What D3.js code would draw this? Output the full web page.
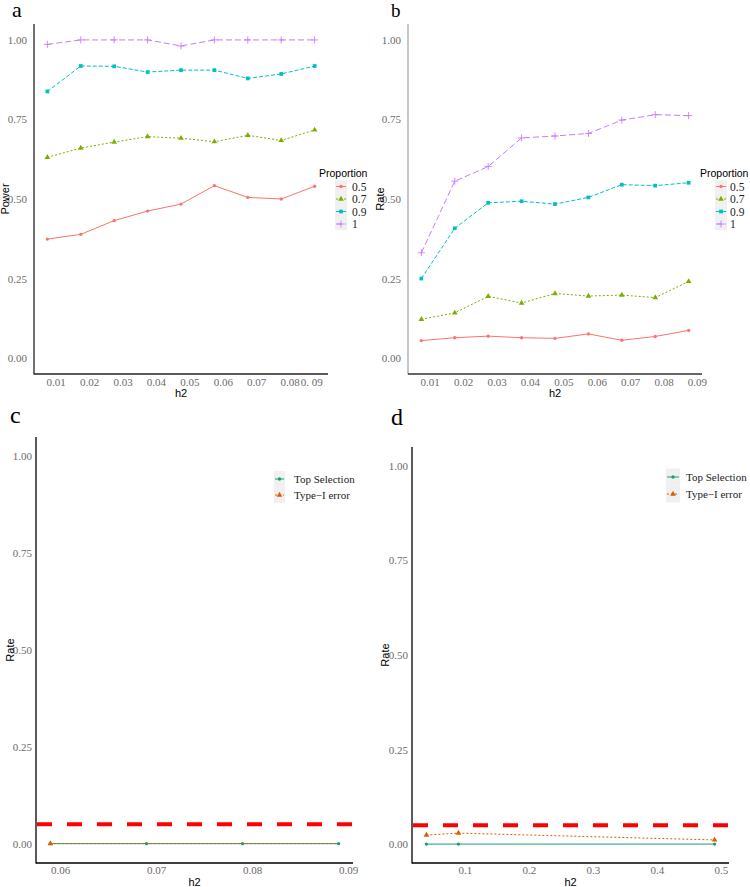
<!DOCTYPE html>
<html><head><meta charset="utf-8">
<script src="https://cdn.jsdelivr.net/npm/d3@7"></script>
<style>body{margin:0;background:#fff}svg{display:block}</style>
</head><body>
<svg id="c" width="750" height="887"></svg>
<script>
// ---------- data ----------
const h2AB = [0.0075,0.0175,0.0275,0.0375,0.0475,0.0575,0.0675,0.0775,0.0875];
const proportions = ["0.5","0.7","0.9","1"];
const powerA = {
  "0.5":[0.374,0.389,0.432,0.462,0.484,0.542,0.505,0.500,0.540],
  "0.7":[0.631,0.660,0.679,0.696,0.691,0.680,0.700,0.684,0.717],
  "0.9":[0.838,0.918,0.917,0.899,0.905,0.905,0.879,0.893,0.918],
  "1":  [0.986,1.000,1.000,1.000,0.981,1.000,1.000,1.000,1.000]
};
const rateB = {
  "0.5":[0.055,0.064,0.069,0.064,0.062,0.076,0.056,0.068,0.087],
  "0.7":[0.122,0.142,0.194,0.173,0.203,0.195,0.198,0.190,0.241],
  "0.9":[0.250,0.408,0.488,0.493,0.484,0.505,0.545,0.542,0.551],
  "1":  [0.331,0.556,0.602,0.692,0.698,0.706,0.748,0.765,0.762]
};
const xTicksA = [0.01,0.02,0.03,0.04,0.05,0.06,0.07,0.08,0.0865];
const xLabelsA = ["0.01","0.02","0.03","0.04","0.05","0.06","0.07","0.08","0. 09"];
const xTicksB = [0.01,0.02,0.03,0.04,0.05,0.06,0.07,0.08,0.09];
const xLabelsB = ["0.01","0.02","0.03","0.04","0.05","0.06","0.07","0.08","0.09"];
const yTicks = [0,0.25,0.5,0.75,1];
const yLabels = ["0.00","0.25","0.50","0.75","1.00"];

const methods = ["Top Selection","Type\u2212I error"];
const h2C_top = [0.059,0.069,0.079,0.089];
const rateC_top = [0,0,0,0];
const h2C_type1 = [0.059,0.069,0.079,0.089];
const rateC_type1 = [0,0,0,0];
const xTicksC = [0.06,0.07,0.08,0.09];
const xLabelsC = ["0.06","0.07","0.08","0.09"];

const h2D = [0.04,0.09,0.49];
const rateD_top = [0,0,0];
const rateD_type1 = [0.024,0.029,0.011];
const xTicksD = [0.1,0.2,0.3,0.4,0.5];
const xLabelsD = ["0.1","0.2","0.3","0.4","0.5"];
const threshold = 0.05;

// ---------- styles ----------
const propColor = {"0.5":"#F8766D","0.7":"#7CAE00","0.9":"#00BFC4","1":"#C77CFF"};
const propDash = {"0.5":null,"0.7":"2,2","0.9":"4,2","1":"6,3"};
const propShape = {"0.5":"circle","0.7":"triangle","0.9":"square","1":"plus"};
const methColor = {"Top Selection":"#1B9E77","Type\u2212I error":"#D95F02"};
const methDash = {"Top Selection":null,"Type\u2212I error":"2,2"};
const methShape = {"Top Selection":"circle","Type\u2212I error":"triangle"};

const SERIF = "'Liberation Serif','Times New Roman',serif";
const SANS = "'Liberation Sans',Arial,sans-serif";
const svg = d3.select("#c");

function marker(g, shape, x, y, color){
  if(shape==="plus"){
    g.append("path").attr("d",`M${x-3.5},${y}H${x+3.5}M${x},${y-3.5}V${y+3.5}`)
     .attr("stroke",color).attr("stroke-width",0.9).attr("fill","none");
    return;
  }
  const t = {circle:d3.symbolCircle, triangle:d3.symbolTriangle, square:d3.symbolSquare}[shape];
  const sz = {circle:9, triangle:14, square:14}[shape];
  g.append("path").attr("d",d3.symbol().type(t).size(sz)())
   .attr("transform",`translate(${x},${y})`).attr("fill",color);
}

function panel(cfg){
  const g = svg.append("g");
  const x = d3.scaleLinear().domain(cfg.xDomain).range([cfg.x0,cfg.x1]);
  const y = d3.scaleLinear().domain([-0.05,1.05]).range([cfg.yb,cfg.yt]);
  const yax = d3.axisLeft(y).tickValues(yTicks).tickFormat((d,i)=>yLabels[i]).tickSize(0).tickPadding(cfg.yPad);
  const ya = g.append("g").attr("transform",`translate(${cfg.x0},0)`).call(yax);
  ya.select(".domain").remove();
  ya.selectAll("text").attr("font-family",SERIF).attr("font-size",11).attr("fill","#6b6b6b");
  const xax = d3.axisBottom(x).tickValues(cfg.xTicks).tickFormat((d,i)=>cfg.xLabels[i]).tickSize(0).tickPadding(cfg.xPad);
  const xa = g.append("g").attr("transform",`translate(0,${cfg.yb})`).call(xax);
  xa.select(".domain").remove();
  xa.selectAll("text").attr("font-family",SERIF).attr("font-size",11).attr("fill","#6b6b6b");
  g.append("line").attr("x1",cfg.x0).attr("x2",cfg.x0).attr("y1",cfg.yt).attr("y2",cfg.yb+0.5)
    .attr("stroke",cfg.yAxisColor).attr("stroke-width",1.3);
  g.append("line").attr("x1",cfg.x0).attr("x2",cfg.x1).attr("y1",cfg.yb).attr("y2",cfg.yb)
    .attr("stroke",cfg.xAxisColor).attr("stroke-width",1.3);
  g.append("text").attr("x",(cfg.x0+cfg.x1)/2).attr("y",cfg.xTitleY).attr("text-anchor","middle")
    .attr("font-family",SANS).attr("font-size",11).text("h2");
  g.append("text").attr("transform",`translate(${cfg.yTitleX},${(cfg.yt+cfg.yb)/2}) rotate(-90)`)
    .attr("text-anchor","middle").attr("font-family",SANS).attr("font-size",11).text(cfg.yTitle);
  g.append("text").attr("x",cfg.tagX).attr("y",cfg.tagY).attr("font-family",SERIF)
    .attr("font-size",cfg.tagSize).text(cfg.tag);
  return {g,x,y};
}

function drawSeries(p, xs, ys, color, dash, shape){
  const line = d3.line().x((d,i)=>p.x(xs[i])).y(d=>p.y(d));
  p.g.append("path").datum(ys).attr("d",line).attr("fill","none")
    .attr("stroke",color).attr("stroke-width",1).attr("stroke-dasharray",dash);
  ys.forEach((v,i)=>marker(p.g,shape,p.x(xs[i]),p.y(v),color));
}

function legend(title, keys, colors, dashes, shapes, o){
  const g = svg.append("g");
  if(title) g.append("text").attr("x",o.titleX).attr("y",o.titleY).attr("font-family",SANS)
      .attr("font-size",10.5).text(title);
  keys.forEach((k,i)=>{
    const cy = o.y0 + i*o.step;
    g.append("rect").attr("x",o.kx).attr("y",cy-o.step/2).attr("width",o.kw).attr("height",o.step)
      .attr("fill","#f0f0f0");
    g.append("line").attr("x1",o.kx+1).attr("x2",o.kx+o.kw-1).attr("y1",cy).attr("y2",cy)
      .attr("stroke",colors[k]).attr("stroke-width",1).attr("stroke-dasharray",dashes[k]);
    marker(g,shapes[k],o.kx+o.kw/2,cy,colors[k]);
    g.append("text").attr("x",o.lx).attr("y",cy).attr("dy","0.35em").attr("font-family",SERIF)
      .attr("font-size",o.fs).attr("fill","#222").text(k);
  });
}

// ---------- panel a ----------
const pa = panel({x0:34,x1:328,yt:24,yb:374,xDomain:[0.0035,0.0915],xTicks:xTicksA,xLabels:xLabelsA,
  yPad:7,xPad:4,yAxisColor:"#222",xAxisColor:"#222",xTitleY:397,yTitleX:9,yTitle:"Power",
  tag:"a",tagX:12,tagY:17,tagSize:22});
proportions.forEach(k=>drawSeries(pa,h2AB,powerA[k],propColor[k],propDash[k],propShape[k]));
legend("Proportion",proportions,propColor,propDash,propShape,
  {titleX:319,titleY:177,y0:186.5,step:12.5,kx:335,kw:12,lx:352,fs:11.5});

// ---------- panel b ----------
const pb = panel({x0:408,x1:702,yt:24,yb:374,xDomain:[0.0035,0.0915],xTicks:xTicksB,xLabels:xLabelsB,
  yPad:7,xPad:4,yAxisColor:"#a8a8a8",xAxisColor:"#333",xTitleY:397,yTitleX:384,yTitle:"Rate",
  tag:"b",tagX:391,tagY:17,tagSize:19});
proportions.forEach(k=>drawSeries(pb,h2AB,rateB[k],propColor[k],propDash[k],propShape[k]));
legend("Proportion",proportions,propColor,propDash,propShape,
  {titleX:700,titleY:177,y0:186.5,step:12.5,kx:715,kw:12,lx:730,fs:11.5});

// ---------- panel c ----------
const pc = panel({x0:36,x1:353,yt:437,yb:863,xDomain:[0.0575,0.0905],xTicks:xTicksC,xLabels:xLabelsC,
  yPad:4,xPad:3,yAxisColor:"#000",xAxisColor:"#000",xTitleY:886,yTitleX:14,yTitle:"Rate",
  tag:"c",tagX:10,tagY:423,tagSize:24});
pc.g.append("line").attr("x1",pc.x(0.0575)).attr("x2",pc.x(0.0905)).attr("y1",pc.y(threshold)).attr("y2",pc.y(threshold))
  .attr("stroke","#ff0000").attr("stroke-width",4).attr("stroke-dasharray","15,15").attr("stroke-dashoffset",-1);
drawSeries(pc,h2C_top,rateC_top,methColor[methods[0]],methDash[methods[0]],methShape[methods[0]]);
drawSeries(pc,h2C_type1.slice(0,1),rateC_type1.slice(0,1),methColor[methods[1]],methDash[methods[1]],methShape[methods[1]]);
pc.g.append("path").datum(rateC_type1).attr("d",d3.line().x((d,i)=>pc.x(h2C_type1[i])).y(d=>pc.y(d)))
  .attr("fill","none").attr("stroke",methColor[methods[1]]).attr("stroke-width",1).attr("stroke-dasharray","2,2");
legend(null,methods,methColor,methDash,methShape,
  {y0:479,step:16,kx:274,kw:11,lx:294,fs:11});

// ---------- panel d ----------
const pd = panel({x0:412,x1:729,yt:447,yb:863,xDomain:[0.0175,0.5125],xTicks:xTicksD,xLabels:xLabelsD,
  yPad:4,xPad:3,yAxisColor:"#000",xAxisColor:"#000",xTitleY:886,yTitleX:389,yTitle:"Rate",
  tag:"d",tagX:391,tagY:425,tagSize:24});
pd.g.append("line").attr("x1",pd.x(0.0175)).attr("x2",pd.x(0.5125)).attr("y1",pd.y(threshold)).attr("y2",pd.y(threshold))
  .attr("stroke","#ff0000").attr("stroke-width",4).attr("stroke-dasharray","15,15").attr("stroke-dashoffset",-1);
drawSeries(pd,h2D,rateD_top,methColor[methods[0]],methDash[methods[0]],methShape[methods[0]]);
drawSeries(pd,h2D,rateD_type1,methColor[methods[1]],methDash[methods[1]],methShape[methods[1]]);
legend(null,methods,methColor,methDash,methShape,
  {y0:477,step:17,kx:666,kw:14,lx:686,fs:11});
</script>
</body></html>
